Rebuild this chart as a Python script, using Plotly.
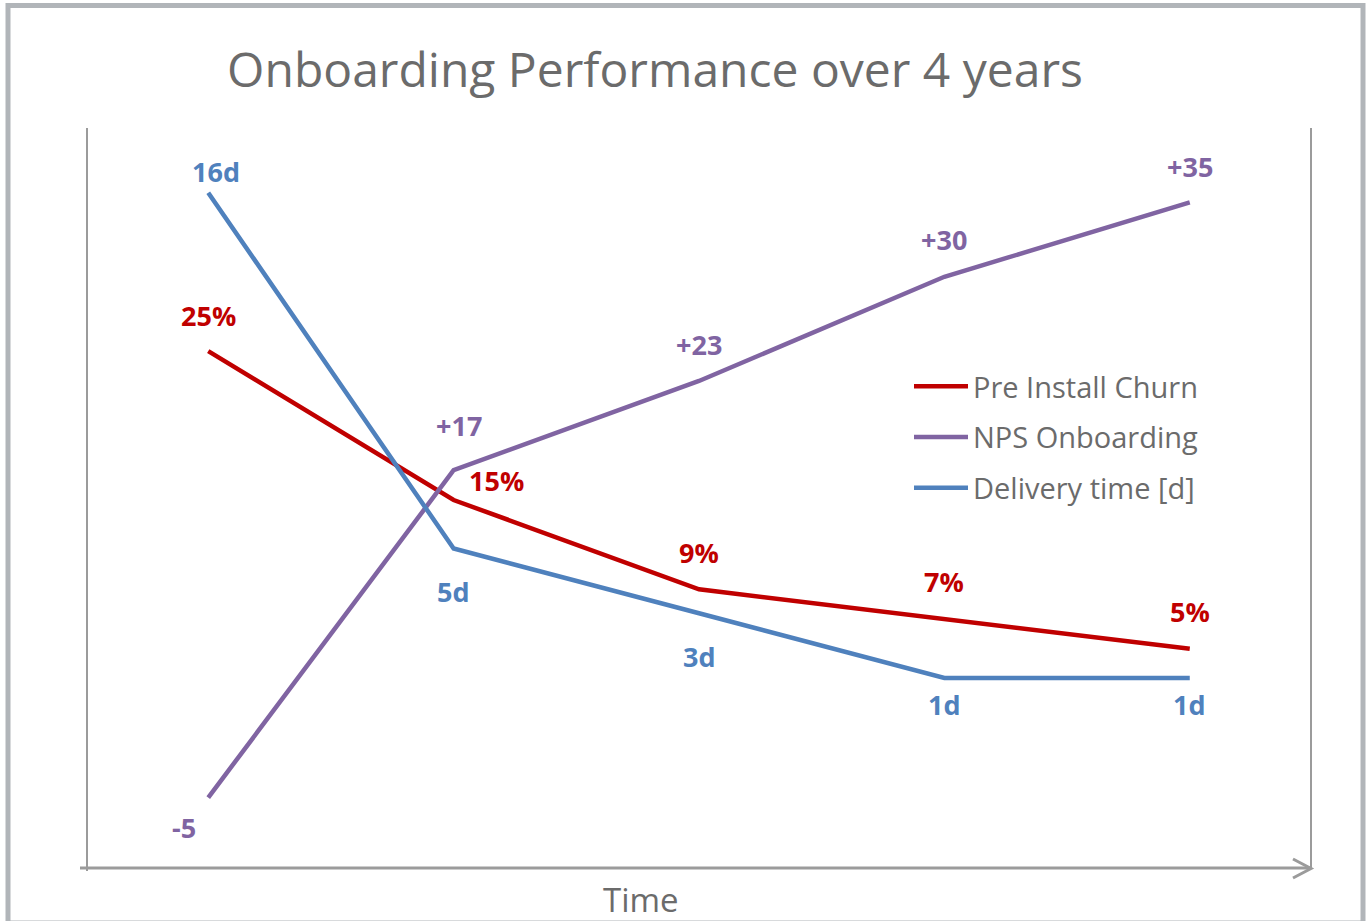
import plotly.graph_objects as go

# ---- data ----
periods = ["Year 0", "Year 1", "Year 2", "Year 3", "Year 4"]
churn_pct = [25, 15, 9, 7, 5]
nps_score = [-5, 17, 23, 30, 35]
delivery_days = [16, 5, 3, 1, 1]

churn_labels = [f"{v}%" for v in churn_pct]
nps_labels = [f"{v:+d}" if v > 0 else f"{v}" for v in nps_score]
delivery_labels = [f"{v}d" for v in delivery_days]

RED = "#C00000"
PURPLE = "#8064A2"
BLUE = "#4F81BD"
GRAY = "#9B9B9B"
TEXT_GRAY = "#6B6B6B"
FONT = "Open Sans"

# plot area geometry (pixels)
L, R, T, B = 88, 1310, 128, 872
W, H = 1371, 921
PW, PH = R - L, B - T


def px(x):
    return (x - L) / PW


def py(y):
    return (B - y) / PH


fig = go.Figure()
fig.add_trace(go.Scatter(x=periods, y=churn_pct, name="Pre Install Churn", mode="lines",
                         line=dict(color=RED, width=4.5), legendgroup="a"))
fig.add_trace(go.Scatter(x=periods, y=nps_score, name="NPS Onboarding", mode="lines",
                         line=dict(color=PURPLE, width=4.5), legendgroup="b"))
fig.add_trace(go.Scatter(x=periods, y=delivery_days, name="Delivery time [d]", mode="lines",
                         line=dict(color=BLUE, width=4.5), yaxis="y2", legendgroup="c"))

# ---- data labels ----
churn_shift = [(0, 36), (43, 20), (0, 37), (0, 38), (0, 37)]
nps_shift = [(-24, -30), (5, 45), (0, 36), (0, 37), (0, 36)]
deliv_shift = [(8, 21), (0, -43), (0, -43), (0, -27), (0, -27)]

annotations = []
for xs, ys, labels, shifts, color, yref in [
    (periods, churn_pct, churn_labels, churn_shift, RED, "y"),
    (periods, nps_score, nps_labels, nps_shift, PURPLE, "y"),
    (periods, delivery_days, delivery_labels, deliv_shift, BLUE, "y2"),
]:
    for xv, yv, lab, (dx, dy) in zip(xs, ys, labels, shifts):
        annotations.append(dict(x=xv, y=yv, xref="x", yref=yref, text=f"<b>{lab}</b>",
                                showarrow=False, xshift=dx, yshift=dy,
                                font=dict(family=FONT, size=27, color=color)))

annotations.append(dict(x=px(641), y=py(899), xref="paper", yref="paper", text="Time",
                        showarrow=False, xanchor="center", yanchor="middle",
                        font=dict(family=FONT, size=33, color=TEXT_GRAY)))

shapes = [
    # outer frame
    dict(type="rect", xref="paper", yref="paper", x0=px(8), x1=px(1363), y0=py(923), y1=py(5.5),
         line=dict(color="#B1B5B9", width=5), layer="below"),
    # left axis line
    dict(type="line", xref="paper", yref="paper", x0=px(87), x1=px(87), y0=py(871), y1=py(128),
         line=dict(color=GRAY, width=2)),
    # right axis line
    dict(type="line", xref="paper", yref="paper", x0=px(1311), x1=px(1311), y0=py(869), y1=py(128),
         line=dict(color=GRAY, width=2)),
    # x axis line
    dict(type="line", xref="paper", yref="paper", x0=px(80), x1=px(1311), y0=py(868), y1=py(868),
         line=dict(color=GRAY, width=3)),
    # arrow head
    dict(type="path", xref="paper", yref="paper",
         path=f"M{px(1293)},{py(859)} L{px(1311)},{py(868.5)} L{px(1293)},{py(878)}",
         line=dict(color=GRAY, width=3)),
]

fig.update_layout(
    width=W, height=H,
    margin=dict(l=L, r=W - R, t=T, b=H - B, pad=0),
    paper_bgcolor="white", plot_bgcolor="white",
    title=dict(text="Onboarding Performance over 4 years", x=655 / W, y=1 - 70 / H,
               xanchor="center", yanchor="middle",
               font=dict(family=FONT, size=48, color=TEXT_GRAY)),
    xaxis=dict(type="category", range=[-0.49, 4.49], showgrid=False, showline=False,
               showticklabels=False, zeroline=False, ticks=""),
    yaxis=dict(range=[-10, 40], showgrid=False, showline=False, showticklabels=False,
               zeroline=False, ticks=""),
    yaxis2=dict(range=[-5, 18], overlaying="y", side="right", showgrid=False, showline=False,
                showticklabels=False, zeroline=False, ticks=""),
    showlegend=True,
    legend=dict(x=px(909), y=py(361), xanchor="left", yanchor="top",
                font=dict(family=FONT, size=29, color=TEXT_GRAY),
                bgcolor="rgba(0,0,0,0)", traceorder="grouped", tracegroupgap=10,
                itemwidth=54),
    annotations=annotations,
    shapes=shapes,
)

fig.write_html("out.html", config={"displayModeBar": False},
               post_script="document.body.style.margin='0';document.body.style.overflow='hidden';")
